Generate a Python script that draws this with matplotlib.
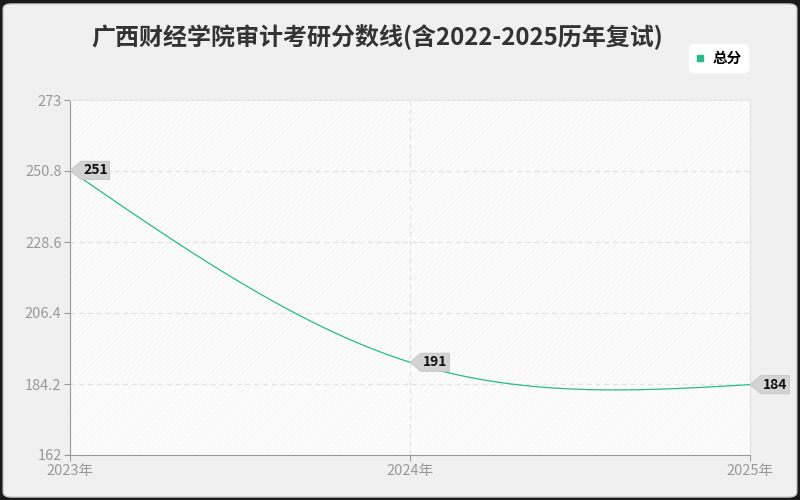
import numpy as np
import matplotlib
matplotlib.use("Agg")
import matplotlib.pyplot as plt
from matplotlib.path import Path
from matplotlib.patches import FancyBboxPatch, Rectangle

plt.rcParams['font.family'] = ['Noto Sans CJK SC', 'DejaVu Sans']
plt.rcParams['hatch.linewidth'] = 0.5

title = "广西财经学院审计考研分数线(含2022-2025历年复试)"
years = ["2023年", "2024年", "2025年"]
scores = [251, 191, 184]
series_name = "总分"
y_ticks = [162, 184.2, 206.4, 228.6, 250.8, 273]
y_tick_labels = ["162", "184.2", "206.4", "228.6", "250.8", "273"]

LINE = '#26bb8b'


def natural_spline(x, y, n=200):
    x = np.asarray(x, float); y = np.asarray(y, float)
    k = len(x)
    h = np.diff(x)
    A = np.zeros((k, k)); b = np.zeros(k)
    A[0, 0] = 1; A[-1, -1] = 1
    for i in range(1, k - 1):
        A[i, i - 1] = h[i - 1]; A[i, i] = 2 * (h[i - 1] + h[i]); A[i, i + 1] = h[i]
        b[i] = 6 * ((y[i + 1] - y[i]) / h[i] - (y[i] - y[i - 1]) / h[i - 1])
    M = np.linalg.solve(A, b)
    xs, ys = [], []
    for i in range(k - 1):
        t = np.linspace(x[i], x[i + 1], n)
        a = x[i + 1] - t; c = t - x[i]
        s = (M[i] * a ** 3 + M[i + 1] * c ** 3) / (6 * h[i]) \
            + (y[i] / h[i] - M[i] * h[i] / 6) * a + (y[i + 1] / h[i] - M[i + 1] * h[i] / 6) * c
        xs.append(t); ys.append(s)
    return np.concatenate(xs), np.concatenate(ys)


def pent_box(x0, y0, width, height, mutation_size):
    pad = mutation_size * 0.15
    x0 -= pad; y0 -= pad; w = width + 2 * pad; h = height + 2 * pad
    tip = h * 0.6
    verts = [(x0, y0), (x0 + w, y0), (x0 + w, y0 + h), (x0, y0 + h),
             (x0 - tip, y0 + h / 2), (x0, y0)]
    codes = [Path.MOVETO] + [Path.LINETO] * 4 + [Path.CLOSEPOLY]
    return Path(verts, codes)


fig = plt.figure(figsize=(8, 5), dpi=100)
fig.patch.set_facecolor('#1a1a1a')
bg = FancyBboxPatch((0.004, 0.006), 0.992, 0.986, boxstyle="round,pad=0,rounding_size=0.01",
                    transform=fig.transFigure, fc='#f0f0f0', ec='#cfcfcf', lw=1, zorder=-10)
fig.patches.append(bg)

ax = fig.add_axes([70 / 800, 45 / 500, 680 / 800, 355 / 500])
ax.set_facecolor('#fcfcfc')
xi = np.arange(len(years))
ax.set_xlim(0, len(years) - 1)
ax.set_ylim(y_ticks[0], y_ticks[-1])

# faint hatch background
ax.add_patch(Rectangle((0, y_ticks[1]), len(years) - 1, y_ticks[-1] - y_ticks[1], fill=False,
                       hatch='//////', ec='#f1f1f1', lw=0, zorder=0))
ax.add_patch(Rectangle((0, y_ticks[0]), len(years) - 1, y_ticks[1] - y_ticks[0], fill=False,
                       hatch='//////', ec='#f6f6f6', lw=0, zorder=0))

for yt in y_ticks[1:-1]:
    ax.axhline(yt, color='#e3e3e3', lw=0.9, ls=(0, (4, 3)), zorder=1)
for xv in xi[1:-1]:
    ax.axvline(xv, color='#e3e3e3', lw=0.9, ls=(0, (4, 3)), zorder=1)

sx, sy = natural_spline(xi, scores)
ax.plot(sx, sy, color=LINE, lw=0.9, zorder=3, label=series_name)

for x, v in zip(xi, scores):
    ax.annotate(str(v), xy=(x, v), xytext=(13, 0), textcoords='offset pixels',
                ha='left', va='center', fontsize=10, fontweight='bold', color='#111111',
                bbox=dict(boxstyle=pent_box, fc='#d3d3d3', ec='#c4c4c4', lw=0.6),
                annotation_clip=False, zorder=5)

ax.set_yticks(y_ticks)
ax.set_yticklabels(y_tick_labels)
ax.set_xticks(xi)
ax.set_xticklabels(years)
ax.tick_params(axis='both', colors='#999999', labelcolor='#999999', length=4, width=0.8)
ax.tick_params(axis='y', labelsize=10.5, pad=2)
ax.tick_params(axis='x', labelsize=10.5, pad=2.5)
ax.spines['left'].set_color('#999999')
ax.spines['bottom'].set_color('#999999')
ax.spines['top'].set_color('#e6e6e6')
ax.spines['right'].set_color('#e0e0e0')

fig.text(377 / 800, 1 - 37 / 500, title, ha='center', va='center', fontsize=17.3,
         fontweight='bold', color='#333333')

leg = ax.legend(handles=[plt.Line2D([], [], marker='s', ls='', color=LINE, markersize=4)],
                labels=[series_name], loc='upper right',
                bbox_to_anchor=(755 / 800, 1 - 37 / 500), bbox_transform=fig.transFigure,
                frameon=True, fancybox=True, framealpha=1, facecolor='white', edgecolor='white',
                handlelength=0.7, handletextpad=0.5, borderpad=0.4, prop={'size': 10.5, 'weight': 'bold'})
leg.get_frame().set_boxstyle('round,pad=0,rounding_size=0.3')

fig.savefig('out.png', dpi=100)
